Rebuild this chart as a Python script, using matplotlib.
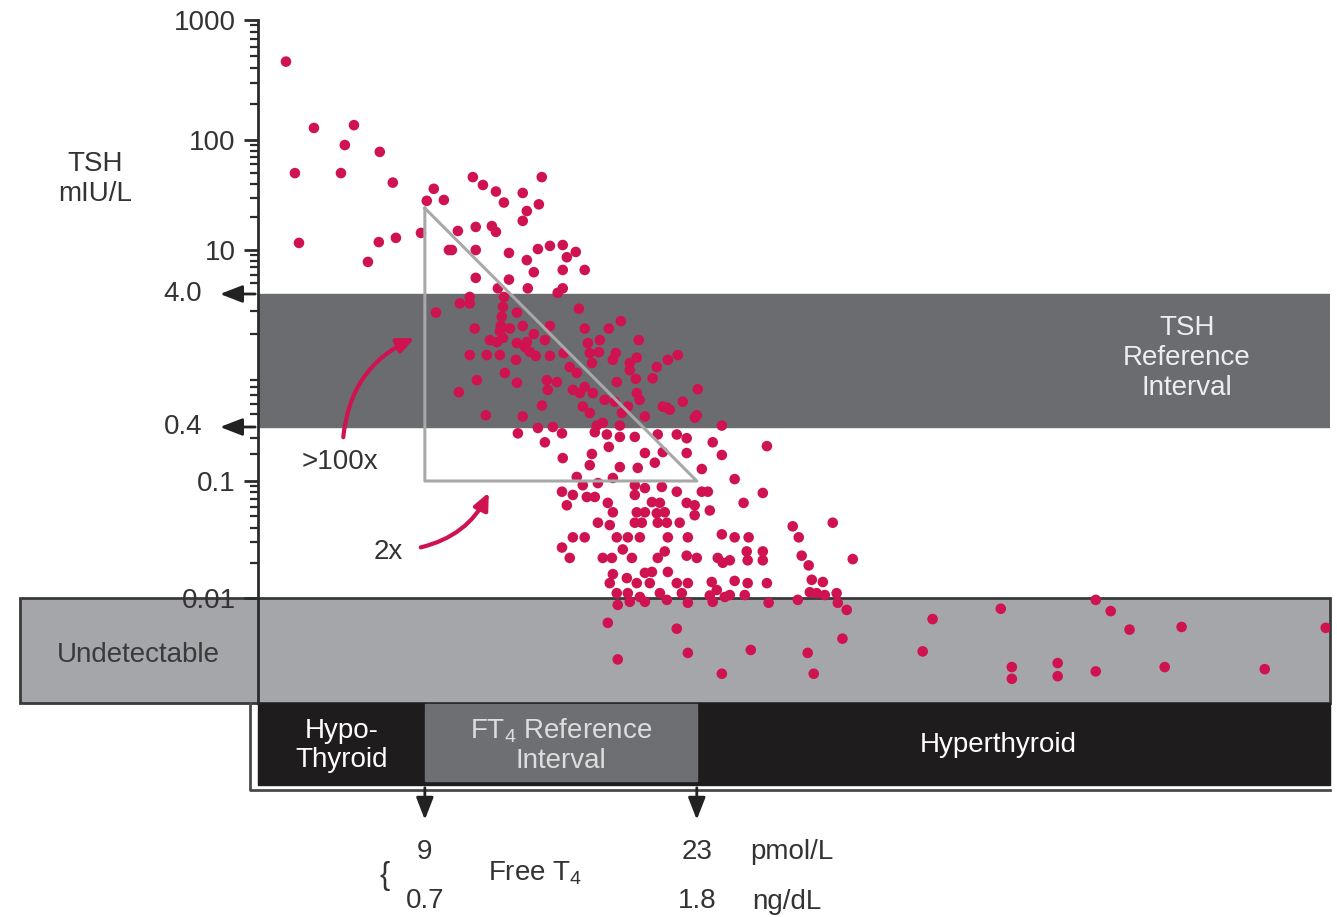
import numpy as np
import matplotlib
matplotlib.use("Agg")
import matplotlib.pyplot as plt
from matplotlib.patches import Rectangle
from matplotlib.ticker import FixedLocator, NullFormatter

plt.rcParams['font.family'] = ['Liberation Sans', 'DejaVu Sans']
plt.rcParams['mathtext.default'] = 'regular'

# --- data: free T4 (pmol/L) and TSH (mIU/L) for each patient ---
ft4_hypo = [1.85, 3.29, 5.35, 4.88, 6.68, 2.31, 4.68, 7.35, 9.46, 9.10, 9.98, 2.52,
            6.63, 7.51, 8.80, 6.07, 10.24, 9.57]
tsh_hypo = [450, 126, 133, 90, 78, 50, 50, 41, 36, 28, 28.5, 11.6,
            11.8, 12.9, 14.3, 7.8, 10, 2.9]

ft4_high = [11.47, 11.99, 12.66, 13.07, 14.04, 15.02, 14.25, 14.87, 14.04, 10.70, 11.62,
            12.45, 12.66, 10.39, 11.62, 13.33, 14.82, 15.44, 16.10, 16.31, 16.77, 14.25,
            14.61, 16.10, 17.23, 11.62, 13.33, 12.76, 14.30, 16.10, 15.84]
tsh_high = [46, 39, 34, 27, 33, 46, 22.6, 26, 18.4, 14.9, 16.2,
            16.5, 14.6, 10, 10, 9.4, 10.2, 10.9, 11.1, 8.6, 9.6, 8.1,
            6.3, 6.6, 6.6, 5.6, 5.4, 4.5, 4.5, 4.5, 4.1]

ft4_band = [11.31, 11.31, 10.80, 13.07, 13.02, 12.96, 12.91, 12.86, 13.74, 16.93, 11.57,
            13.38, 14.04, 14.61, 15.18, 15.44, 17.23, 18.47, 19.09, 20.01, 12.35, 12.71,
            13.02, 13.74, 14.15, 14.25, 14.40, 14.71, 17.39, 18.01, 11.31, 12.19, 12.86,
            13.69, 15.44, 16.15, 17.49, 17.96, 18.83, 18.68, 19.91, 19.55, 19.55, 20.94,
            21.51, 22.02, 17.60, 16.46, 16.82, 11.68, 13.12, 13.74, 15.28, 15.80, 15.33,
            10.75, 19.86, 18.88, 20.73, 17.23, 16.62, 16.98, 17.65, 18.26, 18.78, 19.91,
            20.06, 21.25, 21.61, 22.28, 23.05, 15.03, 12.14, 14.04, 17.13, 17.49, 19.14,
            19.45, 23.0, 20.33, 22.90, 21.46]
tsh_band = [3.8, 3.4, 3.4, 3.8, 3.2, 2.7, 2.3, 2.1, 2.9, 3.1, 2.2,
            2.2, 2.3, 2.0, 1.8, 2.3, 2.2, 2.2, 2.5, 1.8, 1.8, 1.74,
            1.87, 1.71, 1.6, 1.74, 1.47, 1.37, 1.71, 1.8, 1.39, 1.39, 1.39,
            1.28, 1.37, 1.44, 1.44, 1.46, 1.44, 1.28, 1.33, 1.21, 1.07, 1.13,
            1.28, 1.39, 1.21, 1.13, 1.02, 0.90, 1.02, 0.86, 0.90, 0.87, 0.76,
            0.73, 0.92, 0.87, 0.93, 0.80, 0.76, 0.72, 0.72, 0.64, 0.62, 0.72,
            0.64, 0.57, 0.54, 0.62, 0.77, 0.58, 0.49, 0.48, 0.57, 0.51, 0.51,
            0.57, 0.49, 0.48, 0.47, 0.56]

ft4_low = [13.79, 14.82, 15.18, 16.06, 15.59, 16.10, 16.06, 16.31, 16.06, 16.46, 17.60,
           17.85, 18.16, 19.04, 24.29, 17.75, 18.37, 19.04, 19.81, 20.99, 21.97, 22.48,
           23.82, 18.47, 20.33, 21.25, 22.48, 24.29, 17.49, 19.04, 19.96, 20.84, 23.26,
           16.82, 18.68, 17.13, 17.91, 19.81, 20.33, 21.20, 21.97, 23.26, 23.57, 16.62,
           17.34, 17.75, 19.81, 20.69, 21.10, 22.48, 22.89, 23.67, 18.42, 18.68, 19.91,
           20.33, 20.94, 21.35, 22.89, 17.91, 18.52, 19.81, 20.17, 20.99, 21.46, 22.12,
           24.29, 16.62, 17.23, 18.88, 19.45, 20.07, 21.51, 22.54, 18.16, 18.63, 19.19,
           19.66, 20.99, 21.35, 22.48, 23.0, 24.08, 24.34, 18.68, 18.52, 19.40, 19.91,
           20.33, 20.69, 20.58, 21.51, 21.97, 22.54, 23.77, 24.03, 24.44, 18.88, 19.45,
           20.07, 20.33, 19.55, 18.93, 21.10, 21.46, 22.23, 22.54, 23.67, 23.82, 18.42,
           21.97, 18.93, 22.54, 24.29]
tsh_low = [0.34, 0.39, 0.27, 0.34, 0.40, 0.18, 0.081, 0.062, 0.027, 0.022, 0.20,
           0.41, 0.43, 0.41, 0.41, 0.35, 0.33, 0.31, 0.31, 0.33, 0.33, 0.30,
           0.27, 0.24, 0.205, 0.21, 0.205, 0.195, 0.15, 0.143, 0.14, 0.16, 0.136,
           0.111, 0.108, 0.092, 0.096, 0.092, 0.087, 0.089, 0.081, 0.081, 0.081, 0.076,
           0.073, 0.073, 0.076, 0.066, 0.065, 0.065, 0.062, 0.056, 0.065, 0.054, 0.054,
           0.054, 0.053, 0.054, 0.051, 0.044, 0.042, 0.044, 0.044, 0.044, 0.044, 0.044,
           0.035, 0.033, 0.033, 0.033, 0.033, 0.033, 0.033, 0.033, 0.022, 0.022, 0.026,
           0.022, 0.022, 0.025, 0.023, 0.022, 0.022, 0.020, 0.016, 0.0134, 0.0148, 0.0134,
           0.0164, 0.0167, 0.0134, 0.0167, 0.0134, 0.0134, 0.0137, 0.0117, 0.0102, 0.011, 0.011,
           0.0102, 0.0092, 0.0092, 0.0086, 0.011, 0.0096, 0.011, 0.009, 0.0105, 0.0092, 0.0058,
           0.0051, 0.0026, 0.003, 0.0019]

ft4_hyper = [26.61, 24.95, 26.40, 25.41, 27.94, 30.0, 24.95, 25.67, 28.25, 25.57, 25.62,
             26.40, 26.40, 28.4, 31.03, 24.70, 28.76, 24.95, 25.62, 26.61, 28.92, 29.49,
             28.82, 29.17, 24.70, 25.47, 28.2, 26.7, 29.59, 30.2, 30.26, 30.72, 30.5,
             25.78, 28.71, 29.02, 35.14, 34.63, 38.65, 39.22, 39.22, 41.58, 41.58, 43.54,
             44.31, 45.28, 43.54, 47.96, 47.09, 52.24, 55.38]
tsh_hyper = [0.245, 0.105, 0.079, 0.065, 0.041, 0.044, 0.033, 0.033, 0.033, 0.025, 0.021,
             0.025, 0.021, 0.023, 0.0215, 0.021, 0.019, 0.014, 0.0134, 0.0134, 0.0143, 0.0137,
             0.0112, 0.011, 0.0106, 0.0106, 0.0096, 0.009, 0.0106, 0.011, 0.009, 0.0077, 0.0041,
             0.0032, 0.003, 0.0019, 0.0063, 0.0031, 0.0079, 0.0022, 0.0017, 0.0024, 0.0018, 0.0096,
             0.0075, 0.005, 0.002, 0.0053, 0.0022, 0.0021, 0.0052]

# reference intervals
tsh_ref = (0.4, 4.0)
ft4_ref = (9, 23)
ft4_ref_ngdl = (0.7, 1.8)
tsh_undetectable = 0.01

# tick values printed on the TSH axis
major_ticks = [0.01, 0.1, 10, 100, 1000]
major_labels = ['0.01', '0.1', '10', '100', '1000']
minor_ticks = [k * 10.0 ** n for n in range(-2, 3) for k in range(2, 10)
               if not np.isclose(k * 10.0 ** n, 4.0) and not np.isclose(k * 10.0 ** n, 0.4)]

# --- warped log axis as printed (decades are not evenly spaced in the source) ---
anchor_log = np.array([-9, -3, -2, -1, np.log10(0.4), np.log10(4), 1, 2, 3, 9])
anchor_pos = np.array([-630, 0, 105, 222, 276, 409, 453, 563, 683, 1403])


def fwd(y):
    y = np.clip(np.asarray(y, dtype=float), 1e-9, None)
    return np.interp(np.log10(y), anchor_log, anchor_pos)


def inv(p):
    return 10 ** np.interp(np.asarray(p, dtype=float), anchor_pos, anchor_log)


W, H = 1337, 917
fig = plt.figure(figsize=(W / 100, H / 100), dpi=100)
ax = fig.add_axes([258 / W, 1 - 703 / H, (1330 - 258) / W, 683 / H])
ax.set_yscale('function', functions=(fwd, inv))
ax.set_xlim(0.41, 55.6)
ax.set_ylim(0.001, 1000)


def ftxt(px, py, s, **kw):
    fig.text(px / W, 1 - py / H, s, **kw)


dark = '#333333'
red = '#cf1250'
head = '-|>,head_length=0.9,head_width=0.35'

# bands
ax.add_patch(Rectangle((0, tsh_ref[0]), 1, tsh_ref[1] - tsh_ref[0],
                       transform=ax.get_yaxis_transform(), color='#6b6c70', zorder=1))
ax.add_patch(Rectangle((-0.222, 0.001), 1.222, tsh_undetectable - 0.001,
                       transform=ax.get_yaxis_transform(), facecolor='#a5a6a9',
                       edgecolor='#3a3a3a', lw=2, zorder=1, clip_on=False))

# bottom FT4 bar
xt = ax.get_xaxis_transform()
ax.add_patch(Rectangle((0.41, -0.12), 55.6 - 0.41, 0.12, transform=xt,
                       color='#1f1c1d', zorder=1, clip_on=False))
ax.add_patch(Rectangle((ft4_ref[0], -0.114), ft4_ref[1] - ft4_ref[0], 0.112, transform=xt,
                       color='#6e6f73', zorder=2, clip_on=False))
ax.plot([-0.0075, -0.0075, 1.0], [0, -0.127, -0.127], transform=ax.transAxes,
        color='#4a4a4a', lw=2, clip_on=False, zorder=1)

# points
for xs, ys in [(ft4_hypo, tsh_hypo), (ft4_high, tsh_high), (ft4_band, tsh_band),
               (ft4_low, tsh_low), (ft4_hyper, tsh_hyper)]:
    ax.scatter(xs, ys, s=58, color=red, edgecolors='none', zorder=3)

# triangle 2x / >100x
ax.plot([ft4_ref[0], ft4_ref[0], ft4_ref[1], ft4_ref[0]], [24, 0.1, 0.1, 24],
        color='#a8a8a8', lw=2.2, zorder=4)

# axis styling
for s in ['top', 'right', 'bottom']:
    ax.spines[s].set_visible(False)
ax.spines['left'].set_color('#2b2b2b')
ax.spines['left'].set_linewidth(2)
ax.spines['left'].set_zorder(5)
ax.set_xticks([])
ax.yaxis.set_major_locator(FixedLocator(major_ticks))
ax.set_yticklabels(major_labels)
ax.yaxis.set_minor_locator(FixedLocator(minor_ticks))
ax.yaxis.set_minor_formatter(NullFormatter())
ax.tick_params(axis='y', which='major', length=10, width=2, color='#2b2b2b',
               labelsize=20, labelcolor=dark, pad=6)
ax.tick_params(axis='y', which='minor', length=6, width=1.6, color='#2b2b2b')

# arrows at 4.0 and 0.4
for v, lab in [(tsh_ref[1], '4.0'), (tsh_ref[0], '0.4')]:
    ax.annotate('', xy=(-0.038, v), xycoords=('axes fraction', 'data'),
                xytext=(0, v), textcoords=('axes fraction', 'data'),
                arrowprops=dict(arrowstyle=head, color='#222222', lw=2,
                                mutation_scale=15), annotation_clip=False)
    ax.text(-0.052, v, lab, transform=ax.get_yaxis_transform(), ha='right', va='center',
            fontsize=20, color=dark)

ftxt(95, 179, 'TSH\nmIU/L', ha='center', va='center', fontsize=20, color=dark, linespacing=1.2)
ftxt(138, 655, 'Undetectable', ha='center', va='center', fontsize=20, color='#3a3a3a')
ftxt(1187, 358, 'TSH\nReference\nInterval', ha='center', va='center', fontsize=20,
     color='#eeeeee', linespacing=1.18)

# text inside the FT4 bar
ax.text(4.7, -0.062, 'Hypo-\nThyroid', transform=xt, ha='center', va='center',
        fontsize=20, color='white', linespacing=1.15)
ax.text(16, -0.062, 'FT$_4$ Reference\nInterval', transform=xt, ha='center', va='center',
        fontsize=20, color='#dddddd', linespacing=1.15)
ax.text(38.5, -0.062, 'Hyperthyroid', transform=xt, ha='center', va='center',
        fontsize=20, color='white')

# down arrows and FT4 limits
for v, lo in zip(ft4_ref, ft4_ref_ngdl):
    ax.annotate('', xy=(v, -0.175), xycoords=xt, xytext=(v, -0.12), textcoords=xt,
                arrowprops=dict(arrowstyle=head, color='#222222', lw=2,
                                mutation_scale=15), annotation_clip=False)
    ax.text(v, -0.218, str(v), transform=xt, ha='center', va='center', fontsize=20, color=dark)
    ax.text(v, -0.29, str(lo), transform=xt, ha='center', va='center', fontsize=20, color=dark)
ftxt(750, 852, 'pmol/L', ha='left', va='center', fontsize=20, color=dark)
ftxt(752, 902, 'ng/dL', ha='left', va='center', fontsize=20, color=dark)
ftxt(535, 873, 'Free T$_4$', ha='center', va='center', fontsize=20, color=dark)
ftxt(385, 876, '{', ha='center', va='center', fontsize=22, color=dark)

# curved annotation arrows
ftxt(340, 462, '>100x', ha='center', va='center', fontsize=20, color=dark)
ftxt(388, 552, '2x', ha='center', va='center', fontsize=20, color=dark)
ax.annotate('', xy=(417 / W, 1 - 337 / H), xycoords='figure fraction',
            xytext=(343 / W, 1 - 440 / H), textcoords='figure fraction',
            arrowprops=dict(arrowstyle='-|>,head_length=1.0,head_width=0.45',
                            connectionstyle='arc3,rad=-0.3', color=red, lw=3))
ax.annotate('', xy=(490 / W, 1 - 490 / H), xycoords='figure fraction',
            xytext=(418 / W, 1 - 548 / H), textcoords='figure fraction',
            arrowprops=dict(arrowstyle='-|>,head_length=1.0,head_width=0.45',
                            connectionstyle='arc3,rad=0.25', color=red, lw=3))

fig.savefig('out.png', dpi=100)
